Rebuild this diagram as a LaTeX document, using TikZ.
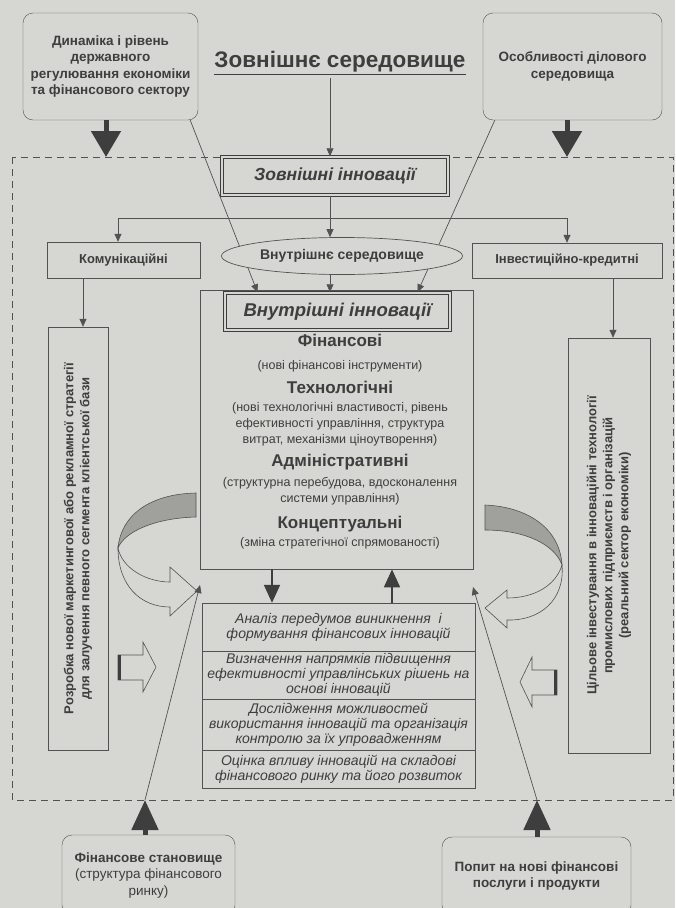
\documentclass[tikz,border=0pt]{standalone}
\usepackage{fontspec}
\setmainfont{Liberation Sans}
\usetikzlibrary{arrows.meta,shapes.geometric}

\definecolor{bg}{RGB}{214,214,210}
\definecolor{ink}{RGB}{62,62,62}
\definecolor{wire}{RGB}{82,82,82}
\definecolor{shade}{RGB}{160,160,156}

\tikzset{
  rbox/.style={draw=wire, rounded corners=10pt, fill=bg, align=center, text=ink,
    font=\fontsize{13.5}{16.5}\selectfont\bfseries},
  sbox/.style={draw=wire, fill=bg, align=center, text=ink,
    font=\fontsize{13}{16}\selectfont\bfseries},
  dbox/.style={draw=ink, line width=1.5pt, double=bg, double distance=1.2pt, fill=bg, text=ink},
  head/.style={text=ink, font=\fontsize{17}{19}\selectfont\bfseries},
  desc/.style={text=ink, align=center, font=\fontsize{12.5}{16}\selectfont},
  stagebox/.style={draw=wire, minimum width=273pt, inner ysep=1pt, align=center, text=ink,
    font=\fontsize{14}{15}\selectfont\itshape},
  link/.style={draw=wire, line width=0.7pt, -{Triangle[width=7pt,length=8pt]}},
  mid/.style={draw=ink, line width=1.8pt, -{Triangle[width=16pt,length=18pt]}},
  fat/.style={draw=ink, line width=5pt, -{Triangle[width=29pt,length=26pt]}},
}

\begin{document}
\begin{tikzpicture}[x=1pt,y=-1pt]

% page
\fill[bg] (0,0) rectangle (675,908);
\useasboundingbox (0,0) rectangle (675,908);

% dashed frame of the system
\draw[wire, line width=0.8pt, dash pattern=on 7pt off 5pt] (12,157) rectangle (673,800);

% outer environment
\node[rbox, minimum width=175pt, minimum height=107pt] (dyn) at (110.5,66.5)
  {Динаміка і рівень\\державного\\регулювання економіки\\та фінансового сектору};
\node[rbox, minimum width=179pt, minimum height=107pt] (bus) at (572.5,66.5)
  {Особливості ділового\\середовища};
\node[text=ink, font=\fontsize{22.5}{26}\selectfont\bfseries] (env) at (340,63)
  {\underline{Зовнішнє середовище}};

% thick arrows into the frame
\coordinate (dynTip) at (106,157);
\coordinate (busTip) at (567,157);
\draw[fat] (dyn.south -| dynTip) -- (dynTip);
\draw[fat] (bus.south -| busTip) -- (busTip);

% external innovations
\coordinate (axis) at (330,0);
\node[dbox, minimum width=226pt, minimum height=38pt,
  font=\fontsize{17.5}{20}\selectfont\bfseries\itshape] (ext) at (335,176) {Зовнішні інновації};
\draw[link] (env.south -| axis) -- (ext.north -| axis);

% branches
\coordinate (brL) at (118,218);
\coordinate (brR) at (567,218);
\draw[wire, line width=0.7pt] (brL) -- (brR);
\node[sbox, minimum width=153pt, minimum height=36pt] (com) at (123.5,260) {Комунікаційні};
\node[sbox, minimum width=190pt, minimum height=35pt] (inv) at (567,260.5) {Інвестиційно-кредитні};
\draw[link] (brL) -- (brL |- com.north);
\draw[link] (brR) -- (brR |- inv.north);

% internal innovations
\node[draw=wire, line width=0.7pt, minimum width=273pt, minimum height=279pt] (core) at (336.5,429.5) {};
\node[dbox, minimum width=225pt, minimum height=37pt,
  font=\fontsize{18.5}{21}\selectfont\bfseries\itshape] (inn) at (337.5,311.5) {Внутрішні інновації};

% lines from the outer factors
\draw[link] ([xshift=-8pt]dyn.south east) -- ([xshift=-80pt]inn.north);
\draw[link] ([xshift=12pt]bus.south west) -- ([xshift=80pt]inn.north);

% internal environment
\node[ellipse, draw=wire, line width=0.7pt, fill=bg, minimum width=240pt, minimum height=37pt,
  text=ink, font=\fontsize{14}{16}\selectfont\bfseries] (ell) at (342,256) {Внутрішнє середовище};
\draw[link] (ext.south -| axis) -- (ell.north -| axis);
\draw[link] (ell.south -| axis) -- (inn.north -| axis);

% kinds of innovations
\node[head] (fin) at (340,340) {Фінансові};
\node[desc] (finD) at (340,366) {(нові фінансові інструменти)};
\node[head] (tech) at (340,387) {Технологічні};
\node[desc] (techD) at (340,424) {(нові технологічні властивості, рівень\\ефективності управління, структура\\витрат, механізми ціноутворення)};
\node[head] (adm) at (340,462) {Адміністративні};
\node[desc] (admD) at (340,491.5) {(структурна перебудова, вдосконалення\\системи управління)};
\node[head] (conc) at (340,524) {Концептуальні};
\node[desc] (concD) at (340,543) {(зміна стратегічної спрямованості)};

% stages
\node[stagebox, minimum height=48pt] (s1) at (338.5,627)
  {Аналіз передумов виникнення \ і\\формування фінансових інновацій};
\node[stagebox, minimum height=48pt] (s2) at (338.5,675)
  {Визначення напрямків підвищення\\ефективності управлінських рішень на\\основі інновацій};
\node[stagebox, minimum height=51pt] (s3) at (338.5,724.5)
  {Дослідження можливостей\\використання інновацій та організація\\контролю за їх упровадженням};
\node[stagebox, minimum height=38pt] (s4) at (338.5,769)
  {Оцінка впливу інновацій на складові\\фінансового ринку та його розвиток};
\coordinate (downX) at (272,0);
\coordinate (upX) at (392,0);
\draw[mid] (core.south -| downX) -- (s1.north -| downX);
\draw[mid] (s1.north -| upX) -- (core.south -| upX);

% side boxes
\node[sbox, rotate=90, minimum width=423pt, minimum height=60pt] (mkt) at (78,538.5)
  {Розробка нової маркетингової або рекламної стратегії\\для залучення певного сегмента клієнтської бази};
\node[sbox, rotate=90, minimum width=415pt, minimum height=82pt] (tgt) at (609,545.5)
  {Цільове інвестування в інноваційні технології\\промислових підприємств і організацій\\(реальний сектор економіки)};
\coordinate (mktX) at (83,0);
\coordinate (tgtX) at (613,0);
\draw[link] (com.south -| mktX) -- (mkt.east -| mktX);
\draw[link] (inv.south -| tgtX) -- (tgt.east -| tgtX);

% curved arrows
\filldraw[draw=wire, fill=shade, line width=0.6pt]
  (196,493) .. controls (150,494) and (121,515) .. (118,548)
  .. controls (125,531) and (156,518) .. (196,517) -- cycle;
\filldraw[draw=wire, fill=bg, line width=0.6pt]
  (118,548) .. controls (118,585) and (140,607) .. (170,607) -- (170,616) -- (197,591)
  -- (170,567) -- (170,582) .. controls (146,582) and (122,568) .. (118,548) -- cycle;
\filldraw[draw=wire, fill=shade, line width=0.6pt]
  (485,505) .. controls (530,507) and (560,530) .. (562,565)
  .. controls (555,545) and (526,530) .. (485,530) -- cycle;
\filldraw[draw=wire, fill=bg, line width=0.6pt]
  (562,565) .. controls (565,600) and (540,621) .. (507,620) -- (507,628) -- (485,608)
  -- (507,590) -- (507,598) .. controls (535,598) and (556,585) .. (562,565) -- cycle;

% block arrows
\filldraw[draw=wire, fill=bg, line width=0.6pt]
  (118,655) -- (143,655) -- (143,642) -- (156,667) -- (143,692) -- (143,680) -- (118,680) -- cycle;
\fill[ink] (118,655) rectangle (121,680);
\filldraw[draw=wire, fill=bg, line width=0.6pt]
  (557,670) -- (532,670) -- (532,657) -- (520,682) -- (532,707) -- (532,695) -- (557,695) -- cycle;
\fill[ink] (554,670) rectangle (557,695);

% market factors
\node[rbox, minimum width=173pt, minimum height=80pt] (fst) at (148.5,875)
  {Фінансове становище\\\mdseries(структура фінансового\\\mdseries ринку)};
\node[rbox, minimum width=189pt, minimum height=78pt] (dem) at (536.5,876)
  {Попит на нові фінансові\\послуги і продукти};
\coordinate (fstTip) at (145,800);
\coordinate (demTip) at (537,800);
\draw[fat, -{Triangle[width=26pt,length=30pt]}] (fst.north -| fstTip) -- (fstTip);
\draw[fat, -{Triangle[width=26pt,length=30pt]}] (dem.north -| demTip) -- (demTip);
\coordinate (fstAim) at (200,585);
\coordinate (demAim) at (473,587);
\draw[link] (fstTip) -- (fstAim);
\draw[link] (demTip) -- (demAim);

\end{tikzpicture}
\end{document}
